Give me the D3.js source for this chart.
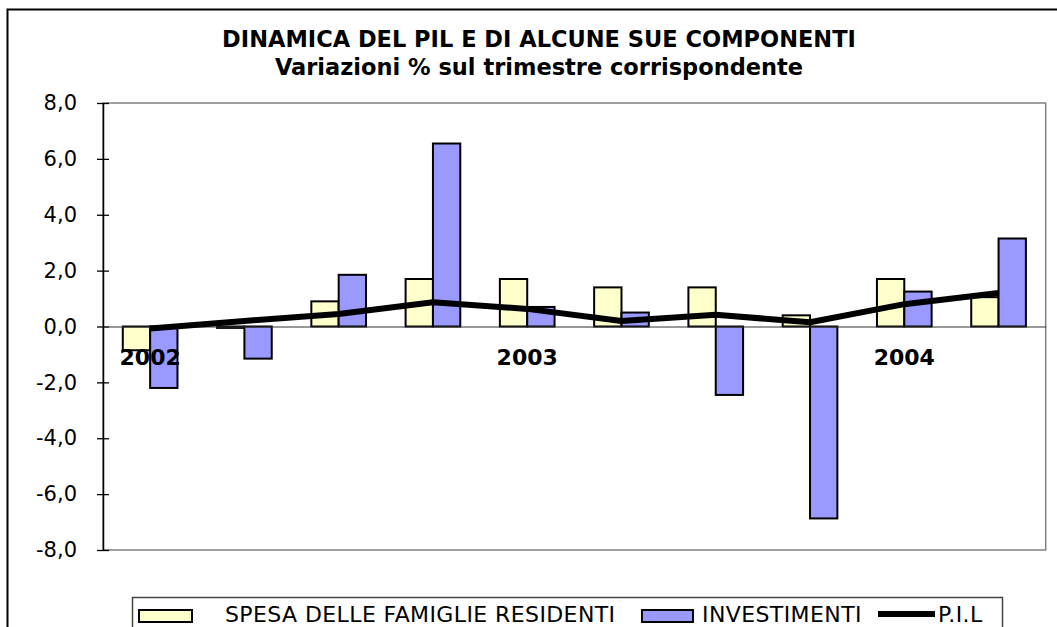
<!DOCTYPE html>
<html>
<head>
<meta charset="utf-8">
<script src="https://cdn.jsdelivr.net/npm/d3@7"></script>
<style>
  body { margin: 0; background: #fff; }
  svg { display: block; font-family: "DejaVu Sans", Verdana, sans-serif; }
</style>
</head>
<body>
<script>
// trimestri 2002 T1 .. 2004 T2
var quarters = ['2002-1','2002-2','2002-3','2002-4','2003-1','2003-2','2003-3','2003-4','2004-1','2004-2'];
var yearLabels = ['2002','','','','2003','','','','2004',''];
var spesa = [-0.85, -0.05, 0.9, 1.7, 1.7, 1.4, 1.4, 0.4, 1.7, 1.05];
var investimenti = [-2.2, -1.15, 1.85, 6.55, 0.7, 0.5, -2.45, -6.87, 1.25, 3.15];
var pil = [-0.07, 0.2, 0.45, 0.87, 0.63, 0.2, 0.42, 0.15, 0.8, 1.2];
var yTicks = [-8, -6, -4, -2, 0, 2, 4, 6, 8];
var seriesNames = ['SPESA DELLE FAMIGLIE RESIDENTI', 'INVESTIMENTI', 'P.I.L'];

var settings = {
  width: 1057,
  height: 627,
  left: 103,
  right: 1045.7,
  top: 103,
  bottom: 550
}

var svg = d3.select('body').append('svg')
  .attr('width', settings.width)
  .attr('height', settings.height);

// cornice esterna
svg.append('rect')
  .attr('x', 7.5)
  .attr('y', 9.5)
  .attr('width', 1100)
  .attr('height', 700)
  .style('fill', 'none')
  .style('stroke', '#000')
  .style('stroke-width', 2);

// titolo
svg.append('text')
  .attr('x', 539)
  .attr('y', 47)
  .attr('text-anchor', 'middle')
  .style('font-weight', 'bold')
  .style('font-size', '22.5px')
  .text('DINAMICA DEL PIL E DI ALCUNE SUE COMPONENTI');

svg.append('text')
  .attr('x', 539)
  .attr('y', 75)
  .attr('text-anchor', 'middle')
  .style('font-weight', 'bold')
  .style('font-size', '22.5px')
  .text('Variazioni % sul trimestre corrispondente');

var x = d3.scaleBand()
  .domain(d3.range(quarters.length))
  .range([settings.left, settings.right])
  .paddingInner(0.42)
  .paddingOuter(0.21);

var x1 = d3.scaleBand()
  .domain([0, 1])
  .range([0, x.bandwidth()]);

var y = d3.scaleLinear()
  .domain([-8, 8])
  .range([settings.bottom, settings.top]);

// area del grafico
svg.append('rect')
  .attr('x', settings.left)
  .attr('y', settings.top)
  .attr('width', settings.right - settings.left)
  .attr('height', settings.bottom - settings.top)
  .style('fill', 'none')
  .style('stroke', '#808080')
  .style('stroke-width', 1.5);

var yAxis = svg.append('g')
  .attr('transform', 'translate(' + settings.left + ',0)')
  .call(d3.axisLeft(y)
    .tickValues(yTicks)
    .tickSizeInner(6)
    .tickSizeOuter(0)
    .tickPadding(20)
    .tickFormat(function(d){ return d3.format('.1f')(d).replace('.', ',').replace('−', '-'); }));

yAxis.select('.domain').style('stroke', '#000').style('stroke-width', 1.5);
yAxis.selectAll('.tick line').attr('x2', 6).attr('x1', -6).style('stroke', '#000').style('stroke-width', 1.3);
yAxis.selectAll('.tick text')
  .style('font-size', '21px')
  .style('font-family', '"DejaVu Sans", Verdana, sans-serif')
  .attr('fill', '#000');

var bars = [spesa, investimenti];
var barColors = ['#FFFFCC', '#9999FF'];

bars.forEach(function(values, s){
  svg.append('g').selectAll('rect').data(values)
    .enter().append('rect')
      .attr('x', function(d, i){ return x(i) + x1(s); })
      .attr('y', function(d){ return y(Math.max(0, d)); })
      .attr('width', x1.bandwidth())
      .attr('height', function(d){ return Math.abs(y(d) - y(0)); })
      .style('fill', barColors[s])
      .style('stroke', '#000')
      .style('stroke-width', 2);
});

// asse delle categorie sullo zero
var xAxis = svg.append('g')
  .attr('transform', 'translate(0,' + y(0) + ')')
  .call(d3.axisBottom(x)
    .tickSize(0)
    .tickPadding(23)
    .tickFormat(function(i){ return yearLabels[i]; }));

xAxis.select('.domain').style('stroke', '#333').style('stroke-width', 1);
xAxis.selectAll('.tick text')
  .style('font-size', '22px')
  .style('font-weight', 'bold')
  .style('font-family', '"DejaVu Sans", Verdana, sans-serif')
  .attr('fill', '#000');

var line = d3.line()
  .x(function(d, i){ return x(i) + x.bandwidth() / 2; })
  .y(function(d){ return y(d); });

svg.append('path')
  .datum(pil)
  .attr('d', line)
  .style('fill', 'none')
  .style('stroke', '#000')
  .style('stroke-width', 6)
  .style('stroke-linejoin', 'round');

// legenda
var legend = svg.append('g');

legend.append('rect')
  .attr('x', 132.5)
  .attr('y', 597.5)
  .attr('width', 870)
  .attr('height', 60)
  .style('fill', '#fff')
  .style('stroke', '#444')
  .style('stroke-width', 1.5);

legend.append('rect')
  .attr('x', 139).attr('y', 610)
  .attr('width', 53).attr('height', 12)
  .style('fill', barColors[0])
  .style('stroke', '#000')
  .style('stroke-width', 2);

legend.append('rect')
  .attr('x', 642).attr('y', 610)
  .attr('width', 51).attr('height', 12)
  .style('fill', barColors[1])
  .style('stroke', '#000')
  .style('stroke-width', 2);

legend.append('line')
  .attr('x1', 878).attr('x2', 935)
  .attr('y1', 614).attr('y2', 614)
  .style('stroke', '#000')
  .style('stroke-width', 6);

var legendX = [225, 702, 938];
legend.selectAll('text.lab').data(seriesNames)
  .enter().append('text')
    .attr('class', 'lab')
    .attr('x', function(d, i){ return legendX[i]; })
    .attr('y', 622)
    .style('font-size', '22px')
    .style('letter-spacing', '0.4px')
    .text(function(d){ return d; });
</script>
</body>
</html>
